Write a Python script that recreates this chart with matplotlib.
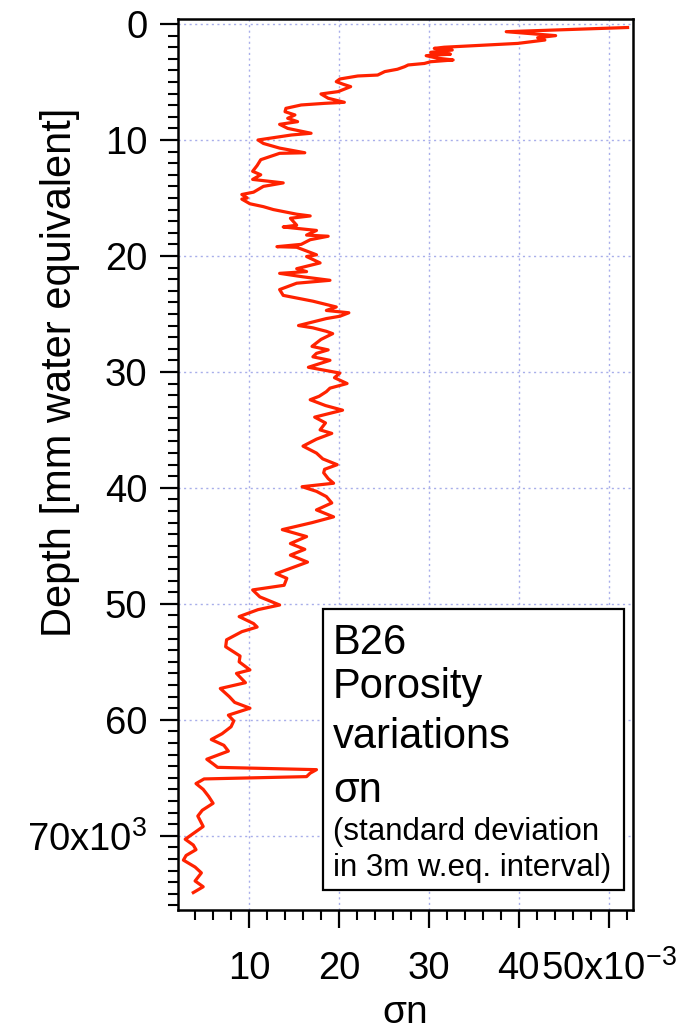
import numpy as np
import matplotlib
matplotlib.use("Agg")
import matplotlib.pyplot as plt
from matplotlib.patches import Rectangle

plt.rcParams['font.family'] = ['Liberation Sans', 'DejaVu Sans']
plt.rcParams['mathtext.fontset'] = 'custom'
plt.rcParams['mathtext.rm'] = 'Liberation Sans'
plt.rcParams['mathtext.it'] = 'Liberation Sans'

# ------------------------------------------------------------
# data: depth (x10^3 mm w.eq.), sigma_n (x10^-3)
# ------------------------------------------------------------
depth_k = [
    0.30, 0.66, 1.00, 1.18, 1.38, 1.67, 2.00, 2.10, 2.24, 2.44, 2.60, 2.73,
    2.95, 3.10, 3.25, 3.40, 3.53, 3.68, 3.90, 4.10, 4.40, 4.48, 4.74, 4.97,
    5.20, 5.40, 5.83, 6.03, 6.40, 6.75, 6.84, 6.98, 7.27, 7.56, 7.84, 8.13,
    8.42, 8.65, 9.00, 9.42, 9.57, 10.00, 10.3, 10.7, 11.1, 11.15, 11.7, 12.2,
    12.7, 13.0, 13.4, 13.7, 14.0, 14.5, 14.7, 15.0, 15.1, 15.5, 15.75, 16.0,
    16.4, 16.55, 16.75, 17.1, 17.35, 17.5, 17.8, 18.2, 18.3, 18.6, 19.0, 19.2,
    19.25, 19.6, 19.9, 20.05, 20.6, 21.1, 21.35, 21.5, 21.8, 22.1, 22.35, 22.9,
    23.4, 23.9, 24.4, 24.7, 24.9, 25.2, 25.4, 26.0, 26.2, 26.5, 26.7, 27.2,
    27.8, 28.1, 28.4, 28.7, 29.0, 29.6, 30.1, 30.5, 31.0, 31.4, 31.7, 32.1,
    32.4, 32.9, 33.3, 33.9, 34.4, 35.0, 35.3, 35.8, 36.4, 37.0, 37.5, 38.0,
    38.4, 38.7, 39.2, 39.6, 39.9, 40.3, 40.75, 41.3, 41.9, 42.5, 43.0, 43.6,
    44.2, 44.8, 45.3, 45.8, 46.4, 47.4, 47.8, 48.4, 48.8, 49.4, 50.1, 50.5,
    51.1, 51.7, 52.0, 52.4, 53.1, 53.7, 54.5, 55.0, 55.7, 56.0, 56.8, 57.3,
    58.0, 58.5, 59.0, 59.6, 60.1, 60.6, 61.2, 61.7, 62.2, 62.7, 63.4, 63.8,
    64.1, 64.3, 64.6, 64.9, 65.1, 65.5, 66.0, 66.6, 67.2, 67.8, 68.3, 69.2,
    70.3, 70.8, 71.2, 71.7, 72.1, 72.7, 73.2, 73.9, 74.4, 74.9,
]
sigma_n = [
    52.1, 38.6, 44.1, 42.1, 42.9, 39.9, 31.7, 30.6, 32.6, 30.2, 32.4, 29.7,
    31.0, 32.7, 30.2, 29.5, 27.7, 27.3, 26.5, 25.1, 24.3, 22.1, 20.1, 19.7,
    20.5, 21.3, 19.9, 18.0, 18.8, 20.6, 18.4, 15.8, 14.1, 14.0, 15.1, 14.3,
    15.4, 13.4, 14.3, 16.9, 14.7, 11.0, 11.6, 13.4, 16.2, 13.4, 11.3, 10.9,
    10.4, 11.3, 10.4, 13.8, 11.6, 10.5, 9.2, 9.8, 9.2, 10.1, 11.6, 12.7,
    15.3, 16.8, 14.6, 15.0, 15.3, 13.8, 17.5, 16.4, 18.8, 16.8, 15.8, 13.1,
    15.3, 16.5, 17.5, 16.4, 17.9, 15.3, 16.4, 13.4, 16.0, 19.0, 15.3, 13.4,
    13.8, 17.1, 19.7, 18.6, 21.1, 20.1, 18.6, 15.5, 17.1, 18.6, 19.3, 18.0,
    17.0, 18.8, 17.5, 17.1, 19.0, 16.6, 20.1, 19.5, 20.9, 19.0, 18.6, 17.8,
    16.8, 18.5, 20.4, 17.3, 18.5, 17.9, 19.2, 17.5, 16.0, 17.5, 18.2, 19.8,
    18.4, 18.3, 18.8, 19.4, 15.9, 17.5, 18.6, 19.2, 17.5, 19.4, 17.0, 13.7,
    16.4, 14.6, 16.2, 14.6, 16.5, 13.0, 14.2, 13.9, 10.4, 11.2, 13.4, 11.0,
    8.9, 10.5, 10.9, 9.2, 7.5, 7.4, 9.0, 8.9, 10.1, 8.6, 9.6, 6.8,
    7.8, 8.4, 10.1, 7.7, 8.3, 8.0, 7.0, 5.8, 7.2, 7.7, 5.3, 6.0,
    6.5, 17.5, 16.8, 16.4, 5.0, 4.1, 4.9, 5.5, 6.0, 4.8, 4.3, 4.9,
    2.9, 3.8, 4.1, 3.0, 2.7, 4.0, 4.7, 4.0, 4.9, 3.8,
]

y_ticks = [0, 10, 20, 30, 40, 50, 60, 70]
y_ticklabels = ['0', '10', '20', '30', '40', '50', '60', '70x10$^{3}$']
x_ticks = [10, 20, 30, 40, 50]
x_ticklabels = ['10', '20', '30', '40', '50x10$^{-3}$']

box_lines = ['B26', 'Porosity', 'variations', 'σn',
             '(standard deviation', 'in 3m w.eq. interval)']

# ------------------------------------------------------------
# figure
# ------------------------------------------------------------
fig = plt.figure(figsize=(6.81, 10.35), dpi=100)
ax = fig.add_axes([0.2614, 0.1208, 0.6681, 0.8608])

ax.plot(sigma_n, depth_k, color='#ff2200', linewidth=2.3, zorder=3,
        solid_joinstyle='round')

ax.set_xlim(2.1, 52.7)
ax.set_ylim(76.4, -0.43)

ax.set_xticks(x_ticks)
ax.set_xticklabels(x_ticklabels)
ax.set_xticks(np.arange(4, 53, 2), minor=True)
ax.set_yticks(y_ticks)
ax.set_yticklabels(y_ticklabels)
ax.set_yticks(np.arange(0, 77, 1), minor=True)

ax.tick_params(axis='both', which='major', length=13, width=1.6,
               labelsize=27.5, direction='out')
ax.tick_params(axis='both', which='minor', length=7.5, width=1.5,
               direction='out')
ax.tick_params(axis='y', which='major', pad=9)
ax.tick_params(axis='x', which='major', pad=37)
for lbl in ax.get_xticklabels():
    lbl.set_verticalalignment('baseline')

for sp in ax.spines.values():
    sp.set_linewidth(1.8)

ax.grid(True, which='major', color='#a8aeea', linestyle=(0, (1.5, 2.5)),
        linewidth=1.0, zorder=1)
ax.set_axisbelow(True)

ax.set_ylabel('Depth [mm water equivalent]', fontsize=30,
              va='center', ha='center')
ax.yaxis.set_label_coords(-0.259, 0.603)
ax.set_xlabel('σn', fontsize=28, va='baseline')
ax.xaxis.set_label_coords(0.499, -0.127)

# legend box
box = Rectangle((0.3187, 0.0224), 0.6613, 0.3154, transform=ax.transAxes,
                facecolor='white', edgecolor='black', linewidth=1.6, zorder=5)
ax.add_patch(box)
line_y = [0.2873, 0.2379, 0.1818, 0.1212, 0.0786, 0.0382]
line_size = [30, 30, 30, 30, 22.5, 22.5]
for txt, yy, fs in zip(box_lines, line_y, line_size):
    ax.text(0.3407, yy, txt, transform=ax.transAxes, fontsize=fs,
            va='baseline', ha='left', zorder=6)

fig.savefig('out.png', dpi=100)
